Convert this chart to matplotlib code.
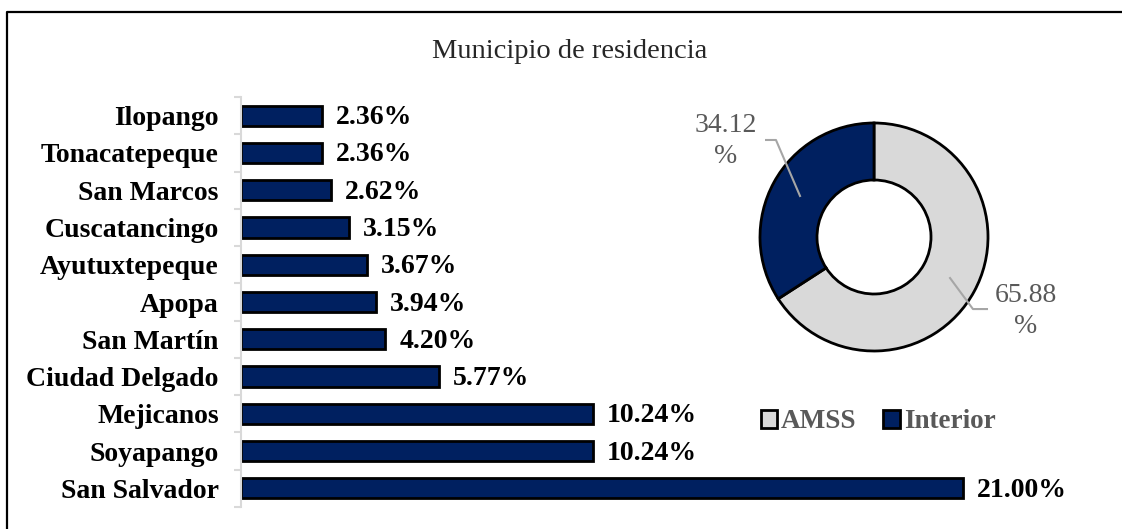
import matplotlib
matplotlib.use("Agg")
import matplotlib.pyplot as plt
from matplotlib.patches import Patch
from matplotlib.lines import Line2D

plt.rcParams['font.family'] = ['Liberation Serif', 'DejaVu Serif']

# bar data (top to bottom)
municipios = ["Ilopango", "Tonacatepeque", "San Marcos", "Cuscatancingo", "Ayutuxtepeque",
              "Apopa", "San Martín", "Ciudad Delgado", "Mejicanos", "Soyapango", "San Salvador"]
porcentajes = [2.36, 2.36, 2.62, 3.15, 3.67, 3.94, 4.20, 5.77, 10.24, 10.24, 21.00]

# donut data
zonas = ["AMSS", "Interior"]
zona_pct = [65.88, 34.12]
zona_labels = ["65.88\n%", "34.12\n%"]

navy = '#002060'
light = '#D9D9D9'
gray_txt = '#595959'
W, H = 1122, 529

fig = plt.figure(figsize=(W / 100, H / 100), dpi=100)

# frame (only top and left visible)
fig.add_artist(Line2D([7 / W, 7 / W, 1], [0, 1 - 12 / H, 1 - 12 / H],
                      transform=fig.transFigure, color='black', lw=1.6))

fig.text(570 / W, 1 - 52 / H, "Municipio de residencia", ha='center', va='center',
         fontsize=20.5, color='#262626')

# horizontal bars
ax = fig.add_axes([241 / W, 22 / H, 859.5 / W, 410 / H])
pos = list(range(len(municipios)))
ax.barh(pos, porcentajes, height=0.54, color=navy, edgecolor='black', linewidth=2)
ax.set_xlim(0, 25)
ax.set_ylim(len(municipios) - 0.5, -0.5)
ax.set_yticks(pos)
ax.set_yticklabels(municipios, fontsize=20, fontweight='bold')
ax.set_yticks([p - 0.5 for p in pos] + [len(pos) - 0.5], minor=True)
ax.tick_params(axis='y', which='major', length=0, pad=16)
ax.tick_params(axis='y', which='minor', length=5, width=1.5, color=light)
ax.xaxis.set_visible(False)
for s in ['top', 'right', 'bottom']:
    ax.spines[s].set_visible(False)
ax.spines['left'].set_color(light)
ax.spines['left'].set_linewidth(1.5)
for p, v in zip(pos, porcentajes):
    ax.annotate(f"{v:.2f}%", (v, p), xytext=(10, -1.5), textcoords='offset points',
                va='center', ha='left', fontsize=20, fontweight='bold')

# donut
r = 114
cx, cy = 874, 237
pax = fig.add_axes([(cx - r) / W, (H - cy - r) / H, 2 * r / W, 2 * r / H])
pax.pie(zona_pct, colors=[light, navy], startangle=90, counterclock=False,
        wedgeprops=dict(width=0.5, edgecolor='black', linewidth=2))
pax.set_xlim(-1, 1)
pax.set_ylim(-1, 1)
pax.set_aspect('equal')
pax.axis('off')

lead = '#A6A6A6'
pax.plot([0.667, 0.868, 0.991], [-0.360, -0.632, -0.632], color=lead, lw=1.5, clip_on=False)
pax.plot([-0.947, -0.860, -0.649], [0.851, 0.851, 0.360], color=lead, lw=1.5, clip_on=False)
pax.text(1.333, -0.649, zona_labels[0], ha='center', va='center', fontsize=20,
         color=gray_txt, linespacing=1.3)
pax.text(-1.298, 0.842, zona_labels[1], ha='center', va='center', fontsize=20,
         color=gray_txt, linespacing=1.3)

handles = [Patch(facecolor=light, edgecolor='black', linewidth=2),
           Patch(facecolor=navy, edgecolor='black', linewidth=2)]
leg = fig.legend(handles, zonas, loc='center', bbox_to_anchor=(878 / W, 1 - 422 / H),
                 ncol=2, frameon=False, handlelength=0.6, handleheight=0.6,
                 handletextpad=0.15, columnspacing=1.0,
                 prop={'size': 19.5, 'weight': 'bold'})
for t in leg.get_texts():
    t.set_color(gray_txt)

fig.savefig("out.png", dpi=100)
